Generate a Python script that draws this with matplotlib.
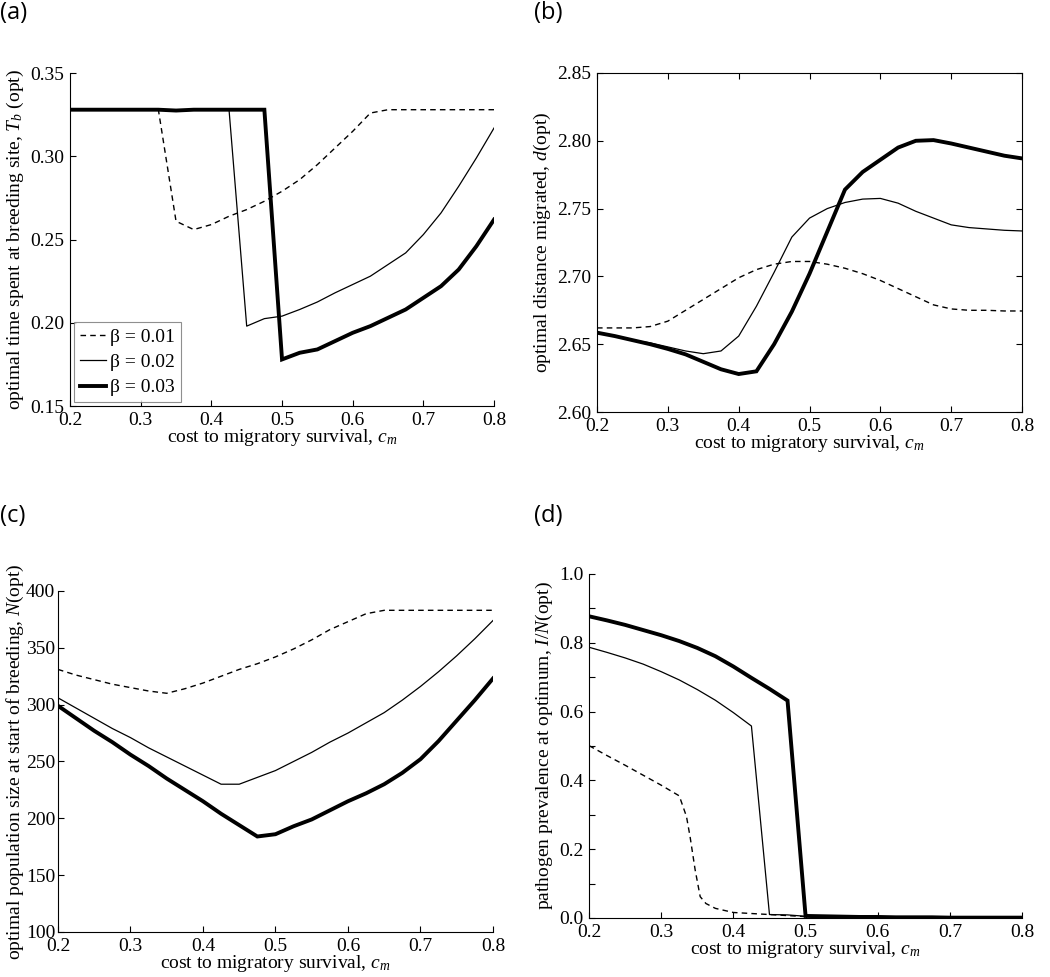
import matplotlib
matplotlib.use('Agg')
import matplotlib.pyplot as plt
from matplotlib.ticker import MultipleLocator, FormatStrFormatter

plt.rcParams['font.family'] = 'serif'
plt.rcParams['font.serif'] = ['Liberation Serif', 'DejaVu Serif']
plt.rcParams['mathtext.fontset'] = 'custom'
plt.rcParams['mathtext.rm'] = 'Liberation Serif'
plt.rcParams['mathtext.it'] = 'Liberation Serif:italic'

# cost to migratory survival, c_m
cm = [0.2, 0.225, 0.25, 0.275, 0.3, 0.325, 0.35, 0.375, 0.4, 0.425, 0.45, 0.475, 0.5,
      0.525, 0.55, 0.575, 0.6, 0.625, 0.65, 0.675, 0.7, 0.725, 0.75, 0.775, 0.8]
betas = ['β = 0.01', 'β = 0.02', 'β = 0.03']

# (a) optimal time at breeding site
Tb_01 = [0.328, 0.328, 0.328, 0.328, 0.328, 0.328, 0.261, 0.256, 0.259, 0.264, 0.268, 0.273, 0.279,
         0.286, 0.295, 0.305, 0.315, 0.326, 0.328, 0.328, 0.328, 0.328, 0.328, 0.328, 0.328]
Tb_02 = [0.328, 0.328, 0.328, 0.328, 0.328, 0.328, 0.328, 0.328, 0.328, 0.328, 0.198, 0.2025, 0.204,
         0.208, 0.2125, 0.218, 0.223, 0.228, 0.235, 0.242, 0.253, 0.266, 0.282, 0.299, 0.317]
Tb_03 = [0.328, 0.328, 0.328, 0.328, 0.328, 0.328, 0.3275, 0.328, 0.328, 0.328, 0.328, 0.328, 0.178,
         0.182, 0.184, 0.189, 0.194, 0.198, 0.203, 0.208, 0.215, 0.222, 0.232, 0.246, 0.262]

# (b) optimal distance migrated
d_01 = [2.662, 2.662, 2.662, 2.663, 2.667, 2.675, 2.683, 2.691, 2.699, 2.705, 2.709, 2.711, 2.711,
        2.709, 2.706, 2.702, 2.697, 2.691, 2.685, 2.679, 2.676, 2.675, 2.675, 2.6745, 2.6745]
d_02 = [2.659, 2.656, 2.653, 2.651, 2.648, 2.645, 2.643, 2.645, 2.656, 2.678, 2.703, 2.729, 2.743,
        2.750, 2.7545, 2.757, 2.7575, 2.754, 2.748, 2.743, 2.738, 2.736, 2.735, 2.734, 2.7335]
d_03 = [2.6585, 2.656, 2.653, 2.650, 2.6465, 2.6425, 2.637, 2.6315, 2.628, 2.630, 2.650, 2.674, 2.702,
        2.733, 2.764, 2.777, 2.786, 2.795, 2.800, 2.8005, 2.798, 2.795, 2.792, 2.789, 2.787]

# (c) optimal population size at start of breeding
N_01 = [331, 326, 322, 318, 315, 312, 310, 314, 319, 325, 331, 336, 342,
        349, 357, 366, 373, 380, 383, 383, 383, 383, 383, 383, 383]
N_02 = [306, 297, 288, 279, 271, 262, 254, 246, 238, 230, 230, 236, 242,
        250, 258, 267, 275, 284, 293, 304, 316, 329, 343, 358, 374]
N_03 = [299, 288, 277, 267, 256, 246, 235, 225, 215, 204, 194, 184, 186,
        193, 199, 207, 215, 222, 230, 240, 252, 268, 286, 304, 323]

# (d) pathogen prevalence at optimum
cm_d01 = [0.2, 0.225, 0.25, 0.275, 0.3, 0.325, 0.335, 0.34, 0.347, 0.354, 0.362, 0.375, 0.4,
          0.425, 0.45, 0.475, 0.5, 0.55, 0.6, 0.7, 0.8]
IN_01 = [0.501, 0.472, 0.444, 0.415, 0.386, 0.355, 0.295, 0.236, 0.14, 0.062, 0.042, 0.028, 0.016,
         0.013, 0.010, 0.007, 0.004, 0.002, 0.001, 0.001, 0.001]
IN_02 = [0.787, 0.772, 0.756, 0.738, 0.716, 0.692, 0.664, 0.633, 0.597, 0.558, 0.010, 0.009, 0.005,
         0.004, 0.003, 0.003, 0.002, 0.002, 0.002, 0.001, 0.001, 0.001, 0.001, 0.001, 0.001]
IN_03 = [0.877, 0.865, 0.852, 0.837, 0.822, 0.805, 0.785, 0.761, 0.731, 0.698, 0.666, 0.632, 0.006,
         0.005, 0.004, 0.003, 0.003, 0.002, 0.002, 0.002, 0.001, 0.001, 0.001, 0.001, 0.001]

xlab = 'cost to migratory survival, $c_m$'

fig = plt.figure(figsize=(10.5, 9.77), dpi=100)


def draw(ax, x1, y1, y2, y3):
    ax.plot(x1, y1, color='k', lw=1.0, dashes=(4, 3), label=betas[0])
    ax.plot(cm, y2, color='k', lw=0.9, label=betas[1])
    ax.plot(cm, y3, color='k', lw=2.8, label=betas[2], solid_joinstyle='miter')


def style(ax, ylo, yhi, ystep, fmt, ylabel, box=False, minor=None, ypad=4, lpad=3):
    ax.set_xlim(0.2, 0.8)
    ax.set_ylim(ylo, yhi)
    ax.xaxis.set_major_locator(MultipleLocator(0.1))
    ax.xaxis.set_major_formatter(FormatStrFormatter('%.1f'))
    ax.yaxis.set_major_locator(MultipleLocator(ystep))
    ax.yaxis.set_major_formatter(FormatStrFormatter(fmt))
    if minor:
        ax.yaxis.set_minor_locator(MultipleLocator(minor))
    for s in ax.spines.values():
        s.set_linewidth(0.8)
    if not box:
        ax.spines['top'].set_visible(False)
        ax.spines['right'].set_visible(False)
    ax.tick_params(which='both', direction='in', length=4, width=0.8, labelsize=14,
                   top=box, right=box)
    ax.tick_params(axis='y', pad=ypad)
    ax.tick_params(axis='x', pad=4)
    ax.set_xlabel(xlab, fontsize=14, labelpad=-1)
    ax.set_ylabel(ylabel, fontsize=14, labelpad=lpad)


# (a)
axa = fig.add_axes([0.0667, 0.5844, 0.4038, 0.3408])
draw(axa, cm, Tb_01, Tb_02, Tb_03)
style(axa, 0.15, 0.35, 0.05, '%.2f', 'optimal time spent at breeding site, $T_b$ (opt)')
leg = axa.legend(loc='lower left', fontsize=14, frameon=True, fancybox=False, edgecolor='0.45',
                 borderaxespad=0.2, handlelength=1.35, handletextpad=0.2, borderpad=0.3,
                 labelspacing=0.4)
leg.get_frame().set_linewidth(0.8)

# (b)
axb = fig.add_axes([0.5686, 0.5783, 0.4048, 0.3470])
draw(axb, cm, d_01, d_02, d_03)
style(axb, 2.60, 2.85, 0.05, '%.2f', 'optimal distance migrated, $d$(opt)', box=True)

# (c)
axc = fig.add_axes([0.0552, 0.0461, 0.4143, 0.3490])
draw(axc, cm, N_01, N_02, N_03)
style(axc, 100, 400, 50, '%d', 'optimal population size at start of breeding, $N$(opt)',
      ypad=2, lpad=0)

# (d)
axd = fig.add_axes([0.5610, 0.0604, 0.4124, 0.3521])
draw(axd, cm_d01, IN_01, IN_02, IN_03)
style(axd, 0.0, 1.0, 0.2, '%.1f', 'pathogen prevalence at optimum, $I/N$(opt)', minor=0.1)

for lab, x, y in [('(a)', 0.0, 0.999), ('(b)', 0.509, 0.999), ('(c)', 0.0, 0.484), ('(d)', 0.509, 0.484)]:
    fig.text(x, y, lab, fontsize=17, family='Open Sans', va='top', ha='left')

fig.savefig('out.png', dpi=100)
